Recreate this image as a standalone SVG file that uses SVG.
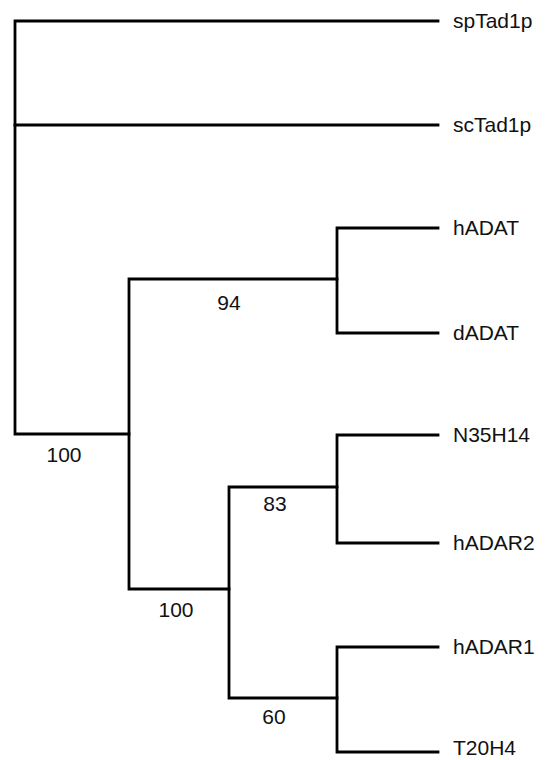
<svg xmlns="http://www.w3.org/2000/svg" width="551" height="760" viewBox="0 0 551 760">
<style>
.e{fill:none;stroke:#000;stroke-width:2.8;stroke-linecap:square}
.l{font-family:"Liberation Sans",Arial,sans-serif;font-size:21px;fill:#111}
.b{font-family:"Liberation Sans",Arial,sans-serif;font-size:21px;fill:#111;text-anchor:middle}
</style>
<rect width="551" height="760" fill="#fff"/>
<g id="connectors">
<path class="e" d="M438,21 H15 V434 H129"/>
<path class="e" d="M15,125 H438"/>
<path class="e" d="M337,279 H129 V589 H229"/>
<path class="e" d="M438,228 H337 V333 H438"/>
<path class="e" d="M337,487 H229 V698 H337"/>
<path class="e" d="M438,435 H337 V543 H438"/>
<path class="e" d="M438,647 H337 V752 H438"/>
</g>
<g id="spTad1p"><text class="l" x="453" y="28">spTad1p</text></g>
<g id="scTad1p"><text class="l" x="453" y="132">scTad1p</text></g>
<g id="hADAT"><text class="l" x="453" y="235">hADAT</text></g>
<g id="dADAT"><text class="l" x="453" y="340">dADAT</text></g>
<g id="N35H14"><text class="l" x="453" y="442">N35H14</text></g>
<g id="hADAR2"><text class="l" x="453" y="550">hADAR2</text></g>
<g id="hADAR1"><text class="l" x="453" y="654">hADAR1</text></g>
<g id="T20H4"><text class="l" x="453" y="755">T20H4</text></g>
<g id="n100a"><text class="b" x="64" y="462">100</text></g>
<g id="n94"><text class="b" x="229" y="310">94</text></g>
<g id="n100b"><text class="b" x="176" y="617">100</text></g>
<g id="n83"><text class="b" x="275" y="511">83</text></g>
<g id="n60"><text class="b" x="274" y="724">60</text></g>
</svg>
